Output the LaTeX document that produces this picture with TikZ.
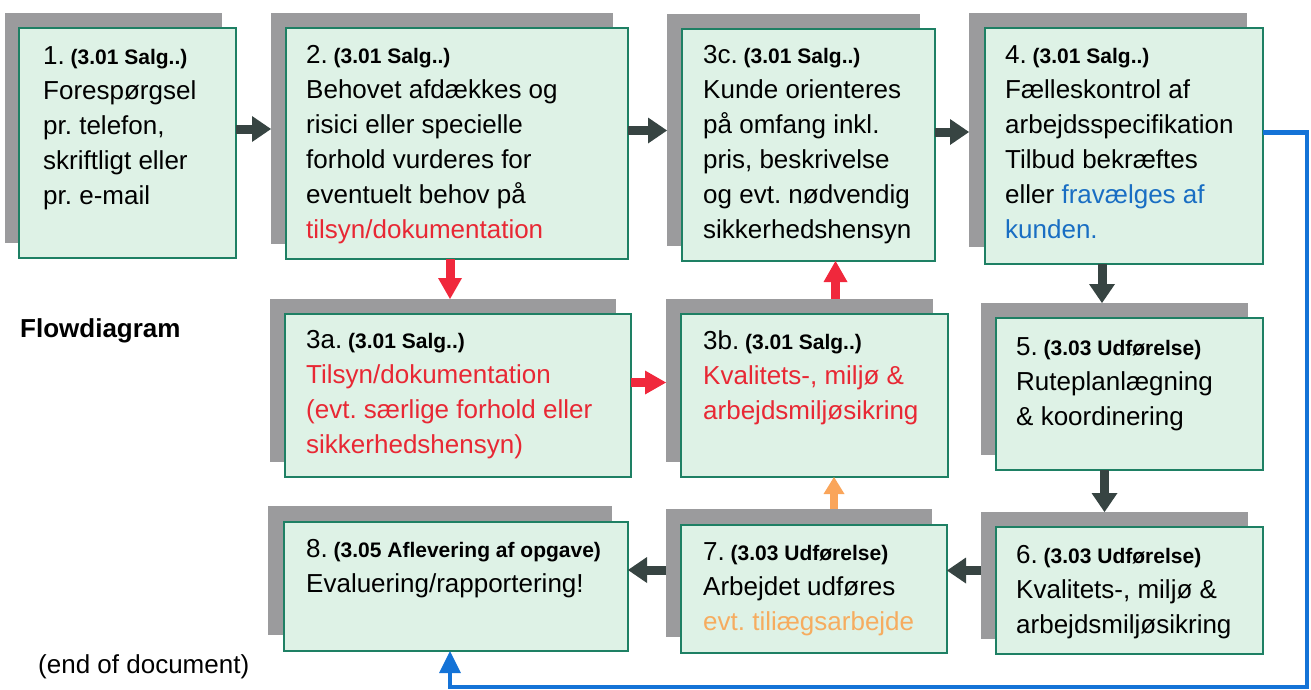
\documentclass[tikz,border=0pt]{standalone}
\usepackage{fontspec}
\setmainfont{Liberation Sans}
\usetikzlibrary{arrows.meta,calc}
\frenchspacing
\definecolor{boxfill}{RGB}{222,242,230}
\definecolor{boxline}{RGB}{30,128,100}
\definecolor{shadowgray}{RGB}{155,155,157}
\definecolor{txtred}{RGB}{232,40,52}
\definecolor{txtblue}{RGB}{25,110,195}
\definecolor{txtorange}{RGB}{246,172,95}
\definecolor{arrowdark}{RGB}{55,68,66}
\definecolor{arrowred}{RGB}{240,40,60}
\definecolor{arroworange}{RGB}{250,165,90}
\definecolor{lineblue}{RGB}{20,115,215}
\tikzset{
  gbox/.style={draw=boxline, line width=1.6pt, fill=boxfill, anchor=north west, inner sep=0pt, outer sep=0pt},
  sbox/.style={fill=shadowgray, anchor=north west, inner sep=0pt, outer sep=0pt},
  btext/.style={anchor=north west, inner sep=0pt, align=left, font=\fontsize{26}{35}\selectfont\frenchspacing},
  darr/.style={draw=arrowdark, line width=9pt, -{Triangle[length=19pt,width=26pt,line width=0pt]}},
  rarr/.style={draw=arrowred, line width=9pt, -{Triangle[length=21pt,width=24pt,line width=0pt]}},
  oarr/.style={draw=arroworange, line width=8pt, -{Triangle[length=17pt,width=21pt,line width=0pt]}},
  barr/.style={draw=lineblue, line width=4.5pt, -{Triangle[length=22pt,width=22pt,line width=0pt]}},
  plain/.style={anchor=west, inner sep=0pt, font=\fontsize{26}{35}\selectfont}
}
\newcommand\hd[1]{{\fontsize{21}{35}\selectfont\bfseries #1}}
\begin{document}
\begin{tikzpicture}[x=1pt,y=-1pt]
\useasboundingbox (0,0) rectangle (1311,689);
% shadows
\node[sbox, minimum width=217pt, minimum height=230pt] (s1) at (5,13) {};
\node[sbox, minimum width=342pt, minimum height=231pt] (s2) at (271,13) {};
\node[sbox, minimum width=253pt, minimum height=232pt] (s3c) at (667,14) {};
\node[sbox, minimum width=278pt, minimum height=234pt] (s4) at (969,13) {};
\node[sbox, minimum width=346pt, minimum height=163pt] (s3a) at (270,299) {};
\node[sbox, minimum width=267pt, minimum height=163pt] (s3b) at (666,299) {};
\node[sbox, minimum width=267pt, minimum height=152pt] (s5) at (981,303) {};
\node[sbox, minimum width=267pt, minimum height=127pt] (s6) at (981,512) {};
\node[sbox, minimum width=266pt, minimum height=128pt] (s7) at (666,509) {};
\node[sbox, minimum width=344pt, minimum height=129pt] (s8) at (268,506) {};
% boxes
\node[gbox, minimum width=217pt, minimum height=230pt] (b1) at (19,28) {};
\node[gbox, minimum width=342pt, minimum height=231pt] (b2) at (286,28) {};
\node[gbox, minimum width=253pt, minimum height=232pt] (b3c) at (682,29) {};
\node[gbox, minimum width=278pt, minimum height=236pt] (b4) at (985,28) {};
\node[gbox, minimum width=346pt, minimum height=163pt] (b3a) at (285,314) {};
\node[gbox, minimum width=267pt, minimum height=163pt] (b3b) at (681,314) {};
\node[gbox, minimum width=267pt, minimum height=152pt] (b5) at (996,318) {};
\node[gbox, minimum width=267pt, minimum height=127pt] (b6) at (996,527) {};
\node[gbox, minimum width=266pt, minimum height=128pt] (b7) at (681,525) {};
\node[gbox, minimum width=344pt, minimum height=129pt] (b8) at (284,522) {};
% texts
\node[btext] (t1) at ($(b1.north west)+(24,12)$) {\strut 1.\hd{ (3.01 Salg..)}\\Forespørgsel\\pr. telefon,\\skriftligt eller\\pr. e-mail};
\node[btext] (t2) at ($(b2.north west)+(20,11)$) {\strut 2.\hd{ (3.01 Salg..)}\\Behovet afdækkes og\\risici eller specielle\\forhold vurderes for\\eventuelt behov på\\\textcolor{txtred}{tilsyn/dokumentation}};
\node[btext] (t3c) at ($(b3c.north west)+(21,10)$) {\strut 3c.\hd{ (3.01 Salg..)}\\Kunde orienteres\\på omfang inkl.\\pris, beskrivelse\\og evt. nødvendig\\sikkerhedshensyn};
\node[btext] (t4) at ($(b4.north west)+(20,11)$) {\strut 4.\hd{ (3.01 Salg..)}\\Fælleskontrol af\\arbejdsspecifikation\\Tilbud bekræftes\\eller \textcolor{txtblue}{fravælges af}\\\textcolor{txtblue}{kunden.}};
\node[btext] (t3a) at ($(b3a.north west)+(21,10)$) {\strut 3a.\hd{ (3.01 Salg..)}\\\textcolor{txtred}{Tilsyn/dokumentation}\\\textcolor{txtred}{(evt. særlige forhold eller}\\\textcolor{txtred}{sikkerhedshensyn)}};
\node[btext] (t3b) at ($(b3b.north west)+(22,11)$) {\strut 3b.\hd{ (3.01 Salg..)}\\\textcolor{txtred}{Kvalitets-, miljø \&}\\\textcolor{txtred}{arbejdsmiljøsikring}};
\node[btext] (t5) at ($(b5.north west)+(20,13)$) {\strut 5.\hd{ (3.03 Udførelse)}\\Ruteplanlægning\\\& koordinering};
\node[btext] (t6) at ($(b6.north west)+(20,12)$) {\strut 6.\hd{ (3.03 Udførelse)}\\Kvalitets-, miljø \&\\arbejdsmiljøsikring};
\node[btext] (t7) at ($(b7.north west)+(22,11)$) {\strut 7.\hd{ (3.03 Udførelse)}\\Arbejdet udføres\\\textcolor{txtorange}{evt. tiliægsarbejde}};
\node[btext] (t8) at ($(b8.north west)+(22,11)$) {\strut 8.\hd{ (3.05 Aflevering af opgave)}\\Evaluering/rapportering!};
% labels
\node[plain, font=\fontsize{26}{35}\selectfont\bfseries] (flow) at (20,331) {Flowdiagram};
\node[plain] (end) at (38,667) {(end of document)};
% dark arrows
\draw[darr] ([yshift=14pt]b1.east) -- ([yshift=14pt]b1.east -| s2.west);
\draw[darr] ([yshift=13pt]b2.east) -- ([yshift=13pt]b2.east -| s3c.west);
\draw[darr] ([yshift=13pt]b3c.east) -- ([yshift=13pt]b3c.east -| s4.west);
\draw[darr] ([xshift=-22pt]b4.south) -- ([xshift=-22pt]b4.south |- s5.north);
\draw[darr] ([xshift=-25pt]b5.south) -- ([xshift=-25pt]b5.south |- s6.north);
\draw[darr] ([yshift=5pt]s6.west) -- ([yshift=5pt]s6.west -| b7.east);
\draw[darr] ([yshift=3pt]s7.west) -- ([yshift=3pt]s7.west -| b8.east);
% red arrows
\draw[rarr] ([xshift=-7pt]b2.south) -- ([xshift=-7pt]b2.south |- s3a.north);
\draw[rarr] ([yshift=13pt]b3a.east) -- ([yshift=13pt]b3a.east -| s3b.west);
\draw[rarr] ([xshift=36pt]s3b.north) -- ([xshift=36pt]s3b.north |- b3c.south);
% orange arrow
\draw[oarr] ([xshift=35pt]s7.north) -- ([xshift=35pt]s7.north |- b3b.south);
% blue return line
\coordinate (bcorner) at (1307,687);
\draw[barr, line join=miter] ([yshift=13.5pt]b4.east) -| (bcorner) -| ([xshift=-6pt]b8.south);
\end{tikzpicture}
\end{document}
